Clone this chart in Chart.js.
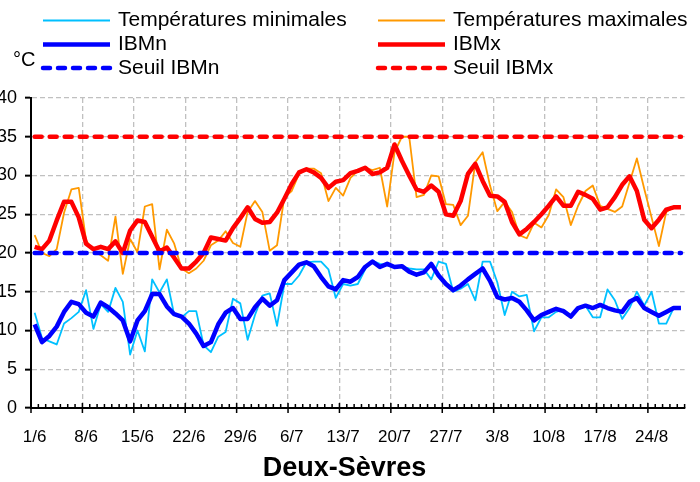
<!DOCTYPE html>
<html lang="fr">
<head>
<meta charset="utf-8">
<title>Deux-Sèvres</title>
<script src="https://cdn.jsdelivr.net/npm/chart.js@4.4.1/dist/chart.umd.min.js"></script>
<style>
    html, body { margin: 0; padding: 0; background: #fff; }
    #graphiqueIBM { display: block; }
</style>
</head>
<body>
<canvas id="graphiqueIBM" width="700" height="482"></canvas>
<script>
// Données (1/6 au 28/8)
const dates = [
    '1/6', '2/6', '3/6', '4/6', '5/6', '6/6', '7/6', '8/6', '9/6', '10/6',
    '11/6', '12/6', '13/6', '14/6', '15/6', '16/6', '17/6', '18/6', '19/6', '20/6',
    '21/6', '22/6', '23/6', '24/6', '25/6', '26/6', '27/6', '28/6', '29/6', '30/6',
    '1/7', '2/7', '3/7', '4/7', '5/7', '6/7', '7/7', '8/7', '9/7', '10/7',
    '11/7', '12/7', '13/7', '14/7', '15/7', '16/7', '17/7', '18/7', '19/7', '20/7',
    '21/7', '22/7', '23/7', '24/7', '25/7', '26/7', '27/7', '28/7', '29/7', '30/7',
    '31/7', '1/8', '2/8', '3/8', '4/8', '5/8', '6/8', '7/8', '8/8', '9/8',
    '10/8', '11/8', '12/8', '13/8', '14/8', '15/8', '16/8', '17/8', '18/8', '19/8',
    '20/8', '21/8', '22/8', '23/8', '24/8', '25/8', '26/8', '27/8', '28/8'
];

const tempMin = [
    12.3, 9.0, 8.6, 8.2, 10.9, 11.6, 12.4, 15.2, 10.2, 13.4,
    12.4, 15.5, 13.7, 6.9, 10.0, 7.3, 16.6, 14.9, 16.6, 12.0,
    11.7, 12.5, 12.5, 8.1, 7.2, 9.2, 9.8, 14.1, 13.5, 8.8,
    12.0, 14.5, 14.8, 10.6, 16.0, 16.0, 17.1, 18.8, 18.9, 18.9,
    17.9, 14.2, 16.0, 15.8, 16.0, 17.9, 19.0, 18.6, 18.4, 18.2,
    18.2, 18.0, 17.9, 17.9, 16.6, 18.9, 18.6, 15.0, 15.4, 16.0,
    13.9, 18.9, 18.9, 16.2, 12.0, 15.0, 14.4, 14.6, 9.9, 11.7,
    11.7, 12.4, 12.7, 11.7, 13.0, 13.2, 11.7, 11.7, 15.3, 13.9,
    11.5, 12.9, 15.0, 13.2, 15.0, 10.9, 10.9, 12.9, 12.9
];

const tempMax = [
    22.3, 20.0, 19.6, 20.5, 25.2, 28.2, 28.4, 21.6, 20.3, 19.7,
    19.0, 24.7, 17.3, 21.8, 20.1, 26.0, 26.3, 17.9, 23.0, 21.2,
    18.0, 17.4, 18.0, 19.0, 21.0, 21.6, 22.8, 21.3, 20.8, 25.3,
    26.7, 25.3, 20.3, 21.0, 27.2, 28.0, 30.2, 30.9, 30.9, 30.3,
    26.7, 28.4, 27.4, 29.7, 30.6, 31.0, 30.7, 31.0, 26.0, 33.0,
    35.0, 35.0, 27.2, 27.5, 30.0, 29.9, 26.3, 26.2, 23.6, 24.8,
    31.7, 33.0, 28.7, 25.4, 26.6, 25.3, 22.3, 21.9, 23.9, 23.3,
    24.9, 28.2, 27.2, 23.6, 26.1, 28.0, 28.7, 26.1, 25.7, 25.3,
    26.0, 29.1, 32.2, 28.3, 24.6, 20.9, 25.3, 25.9, 25.9
];

const ibmn = [
    10.8, 8.5, 9.3, 10.5, 12.4, 13.7, 13.4, 12.3, 11.8, 13.6,
    13.0, 12.2, 11.3, 8.6, 11.3, 12.5, 14.7, 14.7, 13.1, 12.1,
    11.8, 10.9, 9.6, 8.0, 8.5, 10.8, 12.3, 12.9, 11.5, 11.5,
    13.0, 14.1, 13.2, 13.9, 16.5, 17.5, 18.5, 18.8, 18.3, 16.9,
    15.7, 15.3, 16.5, 16.3, 16.9, 18.2, 18.9, 18.2, 18.6, 18.2,
    18.3, 17.6, 17.2, 17.5, 18.6, 17.1, 16.0, 15.2, 15.8, 16.6,
    17.3, 18.0, 16.4, 14.3, 14.0, 14.2, 13.7, 12.6, 11.3, 12.0,
    12.4, 12.8, 12.5, 11.8, 12.9, 13.2, 12.9, 13.3, 12.9, 12.6,
    12.4, 13.7, 14.2, 12.9, 12.4, 11.9, 12.4, 12.9, 12.9
];

const ibmx = [
    20.8, 20.5, 21.6, 24.2, 26.6, 26.6, 24.6, 21.2, 20.5, 20.8,
    20.5, 21.5, 20.0, 22.9, 24.2, 24.0, 22.1, 20.2, 20.7, 19.4,
    18.0, 18.0, 18.9, 20.0, 22.0, 21.8, 21.6, 23.2, 24.5, 25.9,
    24.4, 23.9, 24.0, 25.2, 27.0, 28.9, 30.4, 30.8, 30.4, 29.7,
    28.4, 29.2, 29.4, 30.3, 30.6, 31.0, 30.2, 30.4, 31.0, 34.0,
    31.9, 30.0, 28.2, 27.9, 28.7, 27.9, 25.0, 24.8, 26.7, 30.2,
    31.5, 29.3, 27.4, 27.3, 26.6, 24.0, 22.4, 23.1, 24.0, 25.0,
    26.1, 27.3, 26.1, 26.1, 27.9, 27.5, 27.0, 25.6, 25.9, 27.2,
    28.8, 29.9, 28.0, 24.3, 23.2, 24.3, 25.6, 25.9, 25.9
];

const seuilIBMn = 20;
const seuilIBMx = 35;

const POLICE = '"Liberation Sans", Arial, sans-serif';

// Graduations secondaires de l'axe des dates (une par jour)
const graduationsX = {
    id: 'graduationsX',
    afterDraw(chart) {
        const ctx = chart.ctx;
        const xs = chart.scales.x;
        const y0 = chart.scales.y.getPixelForValue(0);
        const demi = (xs.getPixelForValue(1) - xs.getPixelForValue(0)) / 2;
        ctx.save();
        ctx.strokeStyle = '#000';
        ctx.lineWidth = 1.5;
        ctx.beginPath();
        for (let i = 0; i <= dates.length; i++) {
            const x = xs.getPixelForValue(i) - demi;
            const majeure = i % 7 === 0;
            ctx.moveTo(x, y0 - (majeure ? 5 : 4));
            ctx.lineTo(x, y0 + (majeure ? 5 : 0));
        }
        ctx.stroke();
        ctx.restore();
    }
};

// Légende sur deux colonnes + unité
const legendeDeuxColonnes = {
    id: 'legendeDeuxColonnes',
    afterDraw(chart) {
        const ctx = chart.ctx;
        const colX = [43, 378];
        const rowY = [20.5, 44.5, 68];
        ctx.save();
        ctx.font = '21px ' + POLICE;
        ctx.textBaseline = 'middle';
        ctx.fillStyle = '#000';
        chart.data.datasets.forEach((ds, i) => {
            const x = colX[i % 2];
            const y = rowY[Math.floor(i / 2)];
            ctx.beginPath();
            ctx.strokeStyle = ds.borderColor;
            ctx.lineWidth = ds.borderWidth;
            ctx.lineCap = ds.borderCapStyle || 'butt';
            ctx.setLineDash(ds.borderDash || []);
            ctx.moveTo(x, y);
            ctx.lineTo(x + 67, y);
            ctx.stroke();
            ctx.setLineDash([]);
            ctx.fillText(ds.label, x + 75, y);
        });
        ctx.font = '20px ' + POLICE;
        ctx.fillText('°C', 13, 60);
        ctx.restore();
    }
};

const Graphique = {
    init() {
        const ctx = document.getElementById('graphiqueIBM');
        if (!ctx) return;

        new Chart(ctx, {
            type: 'line',
            data: this.getDonnees(),
            options: this.getOptions(),
            plugins: [graduationsX, legendeDeuxColonnes]
        });
    },

    getDonnees() {
        return {
            labels: dates,
            datasets: [
                { label: 'Températures minimales', data: tempMin, borderColor: '#00C0FF', borderWidth: 1.8, order: 6 },
                { label: 'Températures maximales', data: tempMax, borderColor: '#FF9900', borderWidth: 1.8, order: 5 },
                { label: 'IBMn', data: ibmn, borderColor: '#0000FF', borderWidth: 4.5, order: 4 },
                { label: 'IBMx', data: ibmx, borderColor: '#FF0000', borderWidth: 4.5, order: 3 },
                { label: 'Seuil IBMn', data: dates.map(() => seuilIBMn), borderColor: '#0000FF', borderWidth: 4.5,
                  borderDash: [7, 8], borderCapStyle: 'round', order: 2 },
                { label: 'Seuil IBMx', data: dates.map(() => seuilIBMx), borderColor: '#FF0000', borderWidth: 4.5,
                  borderDash: [7, 8], borderCapStyle: 'round', order: 1 }
            ].map(ds => Object.assign({ pointRadius: 0, tension: 0, fill: false, borderJoinStyle: 'round' }, ds))
        };
    },

    getOptions() {
        return {
            responsive: false,
            animation: false,
            layout: { padding: { top: 98, right: 11, bottom: 0, left: 0 } },
            plugins: {
                legend: { display: false },
                tooltip: { enabled: false },
                title: {
                    display: true,
                    position: 'bottom',
                    text: 'Deux-Sèvres',
                    color: '#000',
                    font: { family: POLICE, size: 27, weight: 'bold', lineHeight: 1 },
                    padding: 0
                }
            },
            scales: {
                x: {
                    type: 'category',
                    offset: true,
                    afterFit: (scale) => { scale.height = 47; },
                    grid: {
                        offset: true,
                        drawTicks: false,
                        lineWidth: 1.3,
                        color: (c) => (c.index > 0 && c.index % 7 === 0 ? '#c0c0c0' : 'transparent')
                    },
                    border: { display: true, color: '#000', width: 2, dash: [5, 3] },
                    ticks: {
                        autoSkip: false,
                        maxRotation: 0,
                        padding: 19,
                        color: '#000',
                        font: { family: POLICE, size: 17 },
                        callback: (value, index) => (index % 7 === 0 ? dates[index] : '')
                    }
                },
                y: {
                    min: 0,
                    max: 40,
                    afterFit: (scale) => { scale.width = 31; },
                    grid: {
                        lineWidth: 1.3,
                        color: (c) => (c.tick && c.tick.value === 0 ? 'transparent' : '#c0c0c0'),
                        drawTicks: true,
                        tickLength: 6,
                        tickWidth: 2,
                        tickColor: '#000'
                    },
                    border: { display: true, color: '#000', width: 2, dash: [5, 3] },
                    ticks: {
                        stepSize: 5,
                        padding: 8,
                        color: '#000',
                        font: { family: POLICE, size: 18 }
                    }
                }
            }
        };
    }
};

document.addEventListener('DOMContentLoaded', () => {
    Graphique.init();
});
</script>
</body>
</html>
